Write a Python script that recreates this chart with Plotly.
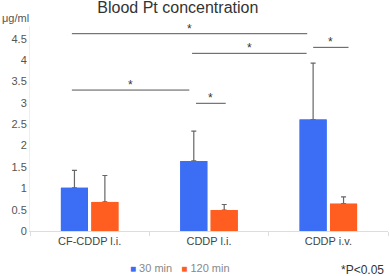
import plotly.graph_objects as go

categories = ["CF-CDDP l.i.", "CDDP l.i.", "CDDP i.v."]
series_names = ["30 min", "120 min"]
mean_30 = [1.01, 1.64, 2.61]
sd_30 = [0.41, 0.70, 1.32]
mean_120 = [0.68, 0.49, 0.64]
sd_120 = [0.62, 0.13, 0.16]
y_ticks = [0, 0.5, 1, 1.5, 2, 2.5, 3, 3.5, 4, 4.5]
y_tick_text = ["0", "0.5", "1", "1.5", "2", "2.5", "3", "3.5", "4", "4.5"]
# significance brackets: (x0, x1, y)
sig_x0 = [-0.149, 0.858, 1.873, -0.149, 0.891]
sig_x1 = [1.823, 1.818, 2.169, 0.835, 1.140]
sig_y = [4.62, 4.16, 4.30, 3.30, 2.99]

BLUE = "#3B6EF5"
ORANGE = "#FF5E20"
ERR = "#666666"

fig = go.Figure()
for name, vals, sd, col, grp in [(series_names[0], mean_30, sd_30, BLUE, "a"),
                                  (series_names[1], mean_120, sd_120, ORANGE, "b")]:
    fig.add_trace(go.Bar(
        x=categories, y=vals, name=name, offsetgroup=grp, showlegend=False,
        marker=dict(color=col, line=dict(width=0)),
        error_y=dict(type="data", symmetric=False, array=sd, arrayminus=[0] * len(sd),
                     color=ERR, thickness=1.2, width=2.5),
    ))
# re-draw bars on top so the error-bar foot at the bar top is hidden
for name, vals, col, grp in [(series_names[0], mean_30, BLUE, "a"),
                             (series_names[1], mean_120, ORANGE, "b")]:
    fig.add_trace(go.Bar(
        x=categories, y=vals, name=name, offsetgroup=grp, showlegend=False,
        marker=dict(color=col, line=dict(width=0)),
    ))

for x0, x1, yv in zip(sig_x0, sig_x1, sig_y):
    fig.add_shape(type="line", xref="x", yref="y", x0=x0, x1=x1, y0=yv, y1=yv,
                  line=dict(color="#555555", width=1))
    fig.add_annotation(x=(x0 + x1) / 2, y=yv, xref="x", yref="y", text="*",
                       showarrow=False, yanchor="bottom", yshift=-4,
                       font=dict(size=12, color="#333333"))

fig.add_annotation(xref="paper", yref="paper", x=-0.0837, y=1.04, xanchor="left", yanchor="middle",
                   text="μg/ml", showarrow=False, font=dict(size=11, color="#555555"))
fig.add_annotation(xref="paper", yref="paper", x=0.995, y=-0.19, xanchor="right", yanchor="middle",
                   text="*P<0.05", showarrow=False, font=dict(size=12, color="#333333"))
legend_text = (f'<span style="color:{BLUE};font-size:10px">■</span> {series_names[0]}'
               f'&nbsp;&nbsp;&nbsp;<span style="color:{ORANGE};font-size:10px">■</span> {series_names[1]}')
fig.add_annotation(xref="paper", yref="paper", x=0.418, y=-0.18, xanchor="center", yanchor="middle",
                   text=legend_text, showarrow=False, font=dict(size=11, color="#888888"))

fig.update_layout(
    width=390, height=276,
    margin=dict(l=30, r=1.5, t=26, b=45.3),
    paper_bgcolor="white", plot_bgcolor="white",
    font=dict(family="Liberation Sans, Arial, sans-serif", color="#444444"),
    title=dict(text="Blood Pt concentration", x=0.456, xanchor="center", y=0.995, yanchor="top",
               font=dict(size=16, color="#333333")),
    barmode="group", bargap=0.49, bargroupgap=0.11,
    showlegend=False,
    xaxis=dict(range=[-0.5, 2.5], showline=True, linecolor="#dddddd", linewidth=1,
               ticks="outside", tickson="boundaries", ticklen=4, tickcolor="#dddddd",
               tickfont=dict(size=11, color="#444444"), showgrid=False, automargin=False),
    yaxis=dict(range=[0, 4.8], tickvals=y_ticks, ticktext=y_tick_text, showgrid=False,
               showline=True, linecolor="#eeeeee", zeroline=False, automargin=False,
               tickfont=dict(size=11, color="#555555")),
)

fig.write_html("out.html", config={"displayModeBar": False},
               post_script="document.body.style.margin='0';document.body.style.overflow='hidden';")
